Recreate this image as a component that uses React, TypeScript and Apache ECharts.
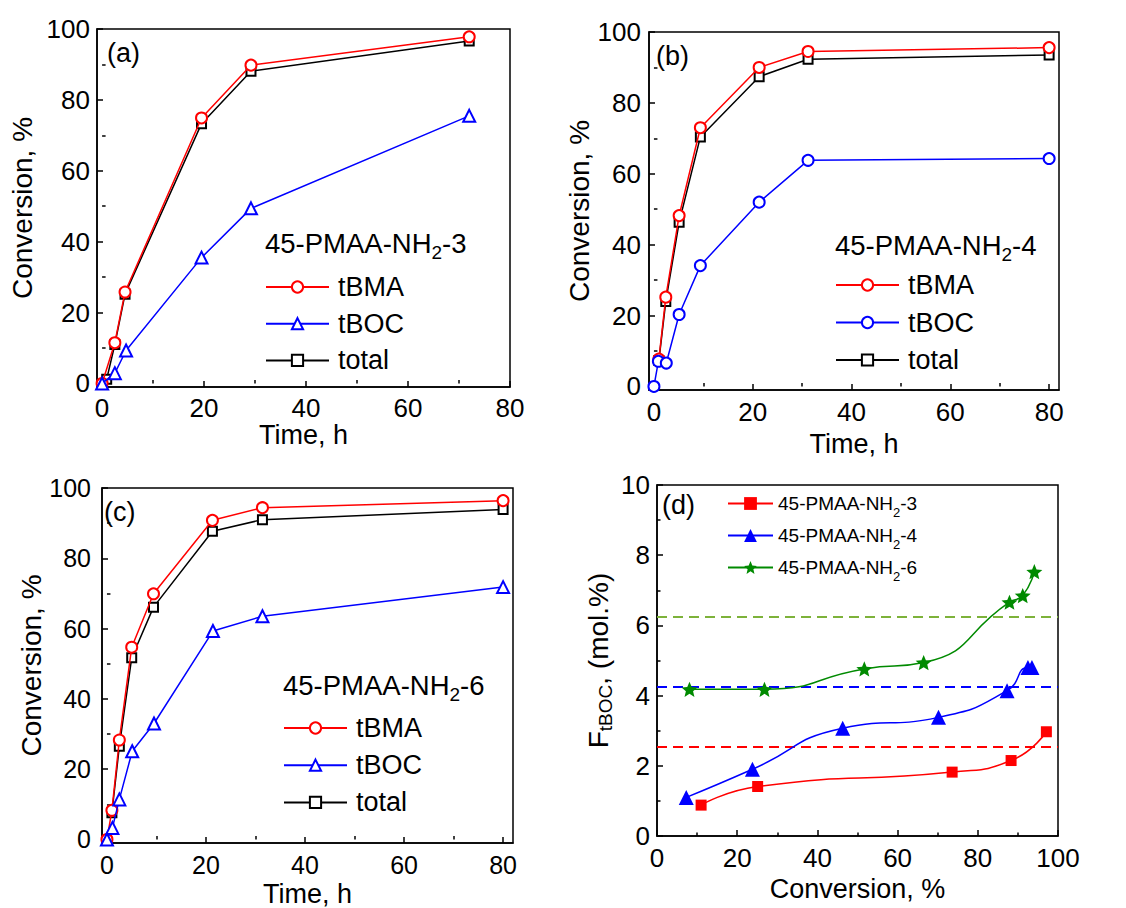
import React, { useEffect, useRef } from 'react';
import * as echarts from 'echarts';

const FONT = '"Liberation Sans", Arial, Helvetica, sans-serif';

// ---------- Panel (a): 45-PMAA-NH2-3 ----------
const timeA = [0, 2.5, 4.5, 19.5, 29.2, 72];
const tbmaA = [0, 11.5, 25.8, 74.9, 89.8, 97.8];
const timeA_boc = [0, 2.5, 4.7, 19.5, 29.2, 72];
const tbocA = [0, 2.9, 9.3, 35.5, 49.4, 75.5];
const timeA_total = [0.9, 2.5, 4.5, 19.5, 29.2, 72];
const totalA = [1.2, 11, 25.2, 73.3, 88.1, 96.6];

// ---------- Panel (b): 45-PMAA-NH2-4 ----------
const timeB = [1, 2.4, 5.1, 9.4, 21.3, 31.2, 80];
const tbmaB = [7.7, 25.2, 48.2, 73, 90, 94.5, 95.6];
const totalB = [7.3, 24, 46.3, 70.4, 87.4, 92.3, 93.5];
const timeB_boc = [0, 0.9, 2.5, 5.1, 9.4, 21.3, 31.2, 80];
const tbocB = [0, 7.1, 6.6, 20.3, 34.1, 52, 63.8, 64.3];

// ---------- Panel (c): 45-PMAA-NH2-6 ----------
const timeC = [0, 1, 2.5, 5, 9.4, 21.3, 31.4, 80];
const tbmaC = [0, 8.3, 28.3, 54.7, 69.9, 90.8, 94.4, 96.4];
const timeC_total = [1, 2.5, 5, 9.4, 21.3, 31.4, 80];
const totalC = [7.6, 26.5, 51.7, 66.1, 87.7, 91, 93.9];
const timeC_boc = [0, 1.1, 2.5, 5.1, 9.5, 21.4, 31.4, 80];
const tbocC = [0, 3.3, 11.4, 25.1, 33, 59.3, 63.5, 71.8];

// ---------- Panel (d): F_tBOC vs conversion ----------
const convD3 = [11, 25.1, 73.6, 88.3, 97.1];
const fD3 = [0.88, 1.41, 1.82, 2.15, 2.97];
const convD4 = [7.3, 23.8, 46.3, 70.2, 87.3, 92.5, 93.5];
const fD4 = [1.1, 1.9, 3.07, 3.38, 4.14, 4.8, 4.8];
const convD6 = [8.1, 26.8, 51.7, 66.5, 87.9, 91.2, 94.1];
const fD6 = [4.18, 4.18, 4.76, 4.94, 6.66, 6.85, 7.53];
const feedLevels = [2.54, 4.24, 6.25];

// tick labels
const timeTicks = [0, 20, 40, 60, 80];
const timeMinor = [10, 30, 50, 70];
const convTicks = [0, 20, 40, 60, 80, 100];
const convMinor = [10, 30, 50, 70, 90];

const panelLabels = ['(a)', '(b)', '(c)', '(d)'];
const sampleSuffix = ['3', '4', '6'];

const STAR =
  'path://M0,-100L26.5,-36.4L95.1,-30.9L42.8,13.9L58.8,80.9L0,45L-58.8,80.9L-42.8,13.9L-95.1,-30.9L-26.5,-36.4Z';

const zip = (xs: number[], ys: number[]) => xs.map((x, i) => [x, ys[i]]);

const BLACK = '#000000';
const RED = '#ff0000';
const BLUE = '#0000ff';
const GREEN = '#008a00';
const GREEN_DASH = '#7db23a';

const lineW = 1.5;

function App() {
  const ref = useRef<HTMLDivElement>(null);

  useEffect(() => {
    document.body.style.margin = '0';
    if (!ref.current) return;
    const chart = echarts.init(ref.current, undefined, { renderer: 'svg' });

    const grids = [
      { left: 97, top: 29, width: 413, height: 358 },
      { left: 649, top: 32, width: 410, height: 358 },
      { left: 102, top: 488, width: 411, height: 355 },
      { left: 657, top: 485, width: 401, height: 351 },
    ].map((g) => ({ ...g, show: true, borderColor: BLACK, borderWidth: lineW, backgroundColor: 'transparent' }));

    const tickLine = { color: BLACK, width: lineW };
    const labelStyle = (size: number, margin: number) => ({
      fontSize: size,
      fontFamily: FONT,
      color: BLACK,
      margin,
    });

    const xMax = [80, 82, 82];
    const xNameGap = [33, 40, 37];
    const yNameGap = [61, 50, 36];
    const xLabelMargin = [8, 9, 9];
    const yLabelMargin = [7, 8, 11];
    const tickFont = [26, 26, 25];

    const xAxes: any[] = [];
    const yAxes: any[] = [];
    for (let g = 0; g < 3; g++) {
      xAxes.push({
        type: 'value',
        gridIndex: g,
        position: 'bottom',
        min: -1,
        max: xMax[g],
        axisLine: { show: true, onZero: false, lineStyle: tickLine },
        axisTick: { show: true, inside: true, length: 6, customValues: timeTicks, lineStyle: tickLine },
        axisLabel: { ...labelStyle(tickFont[g], xLabelMargin[g]), customValues: timeTicks },
        splitLine: { show: false },
        name: 'Time, h',
        nameLocation: 'middle',
        nameGap: xNameGap[g],
        nameTextStyle: { fontSize: 27, fontFamily: FONT, color: BLACK },
      });
      xAxes.push({
        type: 'value',
        gridIndex: g,
        position: 'bottom',
        min: -1,
        max: xMax[g],
        axisLine: { show: false },
        axisTick: { show: true, inside: true, length: 3.5, customValues: timeMinor, lineStyle: tickLine },
        axisLabel: { show: false },
        splitLine: { show: false },
      });
      yAxes.push({
        type: 'value',
        gridIndex: g,
        position: 'left',
        min: -1,
        max: 100,
        axisLine: { show: true, onZero: false, lineStyle: tickLine },
        axisTick: { show: true, inside: true, length: 6, customValues: convTicks, lineStyle: tickLine },
        axisLabel: { ...labelStyle(tickFont[g], yLabelMargin[g]), customValues: convTicks },
        splitLine: { show: false },
        name: 'Conversion, %',
        nameLocation: 'middle',
        nameGap: yNameGap[g],
        nameTextStyle: { fontSize: 28, fontFamily: FONT, color: BLACK },
      });
      yAxes.push({
        type: 'value',
        gridIndex: g,
        position: 'left',
        min: -1,
        max: 100,
        axisLine: { show: false },
        axisTick: { show: true, inside: true, length: 3.5, customValues: convMinor, lineStyle: tickLine },
        axisLabel: { show: false },
        splitLine: { show: false },
      });
    }
    // panel (d)
    xAxes.push({
      type: 'value',
      gridIndex: 3,
      position: 'bottom',
      min: 0,
      max: 100,
      interval: 20,
      axisLine: { show: true, onZero: false, lineStyle: tickLine },
      axisTick: { show: true, inside: true, length: 6, lineStyle: tickLine },
      minorTick: { show: true, splitNumber: 2, length: 3.5, lineStyle: tickLine },
      axisLabel: labelStyle(26, 9),
      splitLine: { show: false },
      name: 'Conversion, %',
      nameLocation: 'middle',
      nameGap: 39,
      nameTextStyle: { fontSize: 27, fontFamily: FONT, color: BLACK },
    });
    yAxes.push({
      type: 'value',
      gridIndex: 3,
      position: 'left',
      min: 0,
      max: 10,
      interval: 2,
      axisLine: { show: true, onZero: false, lineStyle: tickLine },
      axisTick: { show: true, inside: true, length: 6, lineStyle: tickLine },
      minorTick: { show: true, splitNumber: 2, length: 3.5, lineStyle: tickLine },
      axisLabel: labelStyle(26, 7),
      splitLine: { show: false },
      name: 'F{sub|tBOC}, (mol.%)',
      nameLocation: 'middle',
      nameGap: 42,
      nameTextStyle: {
        fontSize: 28,
        fontFamily: FONT,
        color: BLACK,
        rich: { sub: { fontSize: 19, fontFamily: FONT, color: BLACK, padding: [14, 0, 0, 0] } },
      },
    });

    const mk = (name: string, g: number, data: number[][], color: string, symbol: string, size: number, z: number) => ({
      type: 'line',
      name,
      xAxisIndex: g < 3 ? g * 2 : 6,
      yAxisIndex: g < 3 ? g * 2 : 6,
      data,
      symbol,
      symbolSize: size,
      symbolKeepAspect: true,
      showAllSymbol: true,
      lineStyle: { color, width: lineW },
      itemStyle: { color, borderColor: color, borderWidth: lineW },
      emphasis: { disabled: true },
      silent: true,
      z,
    });

    const series: any[] = [
      mk('total_a', 0, zip(timeA_total, totalA), BLACK, 'emptyRect', 9, 2),
      mk('tBMA_a', 0, zip(timeA, tbmaA), RED, 'emptyCircle', 11, 3),
      mk('tBOC_a', 0, zip(timeA_boc, tbocA), BLUE, 'emptyTriangle', 12, 4),

      mk('total_b', 1, zip(timeB, totalB), BLACK, 'emptyRect', 9, 2),
      mk('tBMA_b', 1, zip(timeB, tbmaB), RED, 'emptyCircle', 11, 3),
      mk('tBOC_b', 1, zip(timeB_boc, tbocB), BLUE, 'emptyCircle', 11, 4),

      mk('total_c', 2, zip(timeC_total, totalC), BLACK, 'emptyRect', 9, 2),
      mk('tBMA_c', 2, zip(timeC, tbmaC), RED, 'emptyCircle', 11, 3),
      mk('tBOC_c', 2, zip(timeC_boc, tbocC), BLUE, 'emptyTriangle', 12, 4),
    ];

    const dSeries = [
      { name: 'd3', x: convD3, y: fD3, color: RED, dash: RED, symbol: 'rect', size: 11 },
      { name: 'd4', x: convD4, y: fD4, color: BLUE, dash: BLUE, symbol: 'triangle', size: 15 },
      { name: 'd6', x: convD6, y: fD6, color: GREEN, dash: GREEN_DASH, symbol: STAR, size: 16 },
    ];
    dSeries.forEach((s, i) => {
      const base: any = mk(s.name, 3, zip(s.x, s.y), s.color, s.symbol, s.size, 3 + i);
      base.smooth = 0.55;
      base.itemStyle = { color: s.color, borderWidth: 0 };
      base.markLine = {
        silent: true,
        symbol: 'none',
        label: { show: false },
        lineStyle: { color: s.dash, width: 2, type: [10, 6] },
        data: [{ yAxis: feedLevels[i] }],
        z: 1,
      };
      series.push(base);
    });

    const legendBase = (left: number, top: number, gap: number, names: string[]) => ({
      orient: 'vertical',
      left,
      top,
      padding: 0,
      itemGap: gap,
      itemWidth: 63,
      itemHeight: 14,
      selectedMode: false,
      data: names,
      formatter: (n: string) => n.split('_')[0],
      textStyle: { fontSize: 27, fontFamily: FONT, color: BLACK, lineHeight: 30, padding: [0, 0, 0, 4] },
    });

    const legends: any[] = [
      legendBase(265, 272, 6.7, ['tBMA_a', 'tBOC_a', 'total_a']),
      legendBase(835, 270, 7.5, ['tBMA_b', 'tBOC_b', 'total_b']),
      legendBase(283, 713, 7.2, ['tBMA_c', 'tBOC_c', 'total_c']),
      {
        orient: 'vertical',
        left: 727,
        top: 494,
        padding: 0,
        itemGap: 7,
        itemWidth: 45,
        itemHeight: 16,
        selectedMode: false,
        data: ['d3', 'd4', 'd6'],
        formatter: (n: string) => '45-PMAA-NH{sub|2}-' + n.slice(1),
        textStyle: {
          fontSize: 19,
          fontFamily: FONT,
          color: BLACK,
          rich: { sub: { fontSize: 13, fontFamily: FONT, color: BLACK, padding: [18, 0, 0, 0] } },
        },
      },
    ];

    const labelPos = [
      [107, 53],
      [656, 56],
      [104, 512],
      [662, 505],
    ];
    const titlePos = [
      [265, 243],
      [835, 245],
      [283, 685],
    ];
    const graphic: any[] = [];
    panelLabels.forEach((t, i) => {
      graphic.push({
        type: 'text',
        x: labelPos[i][0],
        y: labelPos[i][1],
        silent: true,
        style: { text: t, fontSize: 27, fontFamily: FONT, fill: BLACK, verticalAlign: 'middle' },
      });
    });
    titlePos.forEach((p, i) => {
      graphic.push({
        type: 'text',
        x: p[0],
        y: p[1],
        silent: true,
        style: {
          text: '45-PMAA-NH{sub|2}-' + sampleSuffix[i],
          fontSize: 27.5,
          fontFamily: FONT,
          fill: BLACK,
          verticalAlign: 'middle',
          rich: { sub: { fontSize: 19, fontFamily: FONT, fill: BLACK, padding: [19, 0, 0, 0] } },
        },
      });
    });

    chart.setOption({
      animation: false,
      backgroundColor: '#ffffff',
      textStyle: { fontFamily: FONT },
      grid: grids,
      xAxis: xAxes,
      yAxis: yAxes,
      legend: legends,
      series,
      graphic,
    });

    return () => {
      chart.dispose();
    };
  }, []);

  return <div ref={ref} style={{ width: 1126, height: 908 }} />;
}

export default App;
